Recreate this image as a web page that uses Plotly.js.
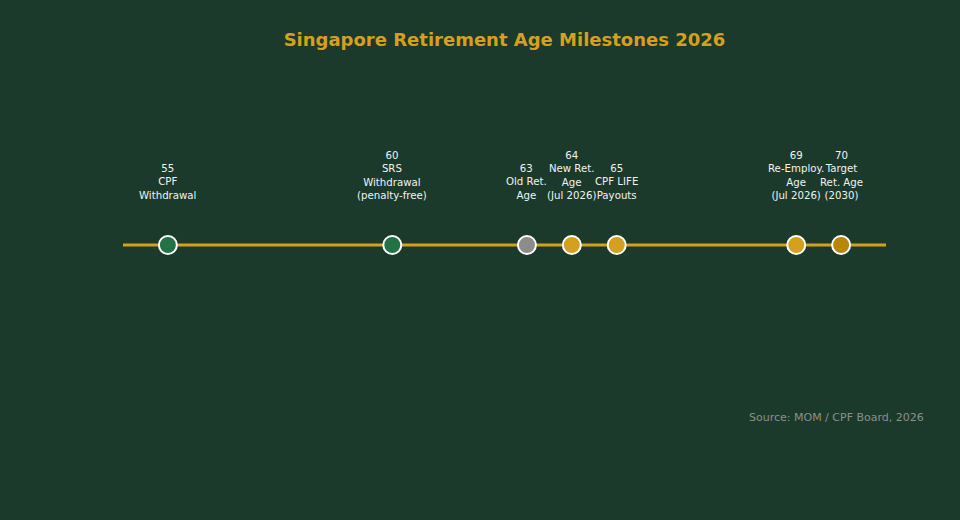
<!DOCTYPE html>
<html>
<head>
<meta charset="utf-8">
<script src="https://cdn.plot.ly/plotly-3.0.1.min.js"></script>
<style>
  html, body { margin: 0; padding: 0; background: #1c3a2c; }
  #chart { width: 960px; height: 520px; }
</style>
</head>
<body>
<div id="chart"></div>
<script>
// milestone data
const ages   = [55, 60, 63, 64, 65, 69, 70];
const labels = [
  'CPF<br>Withdrawal',
  'SRS<br>Withdrawal<br>(penalty-free)',
  'Old Ret.<br>Age',
  'New Ret.<br>Age<br>(Jul 2026)',
  'CPF LIFE<br>Payouts',
  'Re-Employ.<br>Age<br>(Jul 2026)',
  'Target<br>Ret. Age<br>(2030)',
];
const dotColors = ['#217346', '#217346', '#8c8c8c', '#d4a020', '#d4a020', '#d4a020', '#b8860b'];
const lineSpan  = [54, 71];

const BG = '#1c3a2c';
const GOLD = '#d4a020';
const FONT = 'DejaVu Sans, sans-serif';

const traces = [
  {
    x: lineSpan, y: [0, 0],
    mode: 'lines', line: { color: GOLD, width: 3 },
    hoverinfo: 'skip', showlegend: false,
  },
  {
    x: ages, y: ages.map(() => 0),
    mode: 'markers',
    marker: { size: 18, color: dotColors, line: { color: '#ffffff', width: 2 } },
    showlegend: false,
  },
];

const annotations = ages.map((a, i) => ({
  x: a, y: 0, xref: 'x', yref: 'y',
  text: a + '<br>' + labels[i],
  showarrow: false,
  yanchor: 'bottom', yshift: 42,
  font: { family: FONT, size: 10.2, color: '#f2f2f2' },
}));

annotations.push({
  x: 1.052, y: -0.027, xref: 'paper', yref: 'paper',
  xanchor: 'right', yanchor: 'middle',
  text: 'Source: MOM / CPF Board, 2026',
  showarrow: false,
  font: { family: FONT, size: 11, color: '#8a9088' },
});

const layout = {
  width: 960, height: 520,
  margin: { t: 81, r: 74, b: 111, l: 123 },
  paper_bgcolor: BG,
  plot_bgcolor: BG,
  title: {
    text: '<b>Singapore Retirement Age Milestones 2026</b>',
    font: { family: FONT, size: 18, color: GOLD },
    x: 0.5, xref: 'paper',
    y: 1 - 40 / 520, yref: 'container', yanchor: 'middle',
  },
  xaxis: { range: lineSpan, visible: false, fixedrange: true },
  yaxis: { range: [-1, 1], visible: false, fixedrange: true },
  annotations: annotations,
  showlegend: false,
};

Plotly.newPlot('chart', traces, layout, { displayModeBar: false, staticPlot: true });
</script>
</body>
</html>
